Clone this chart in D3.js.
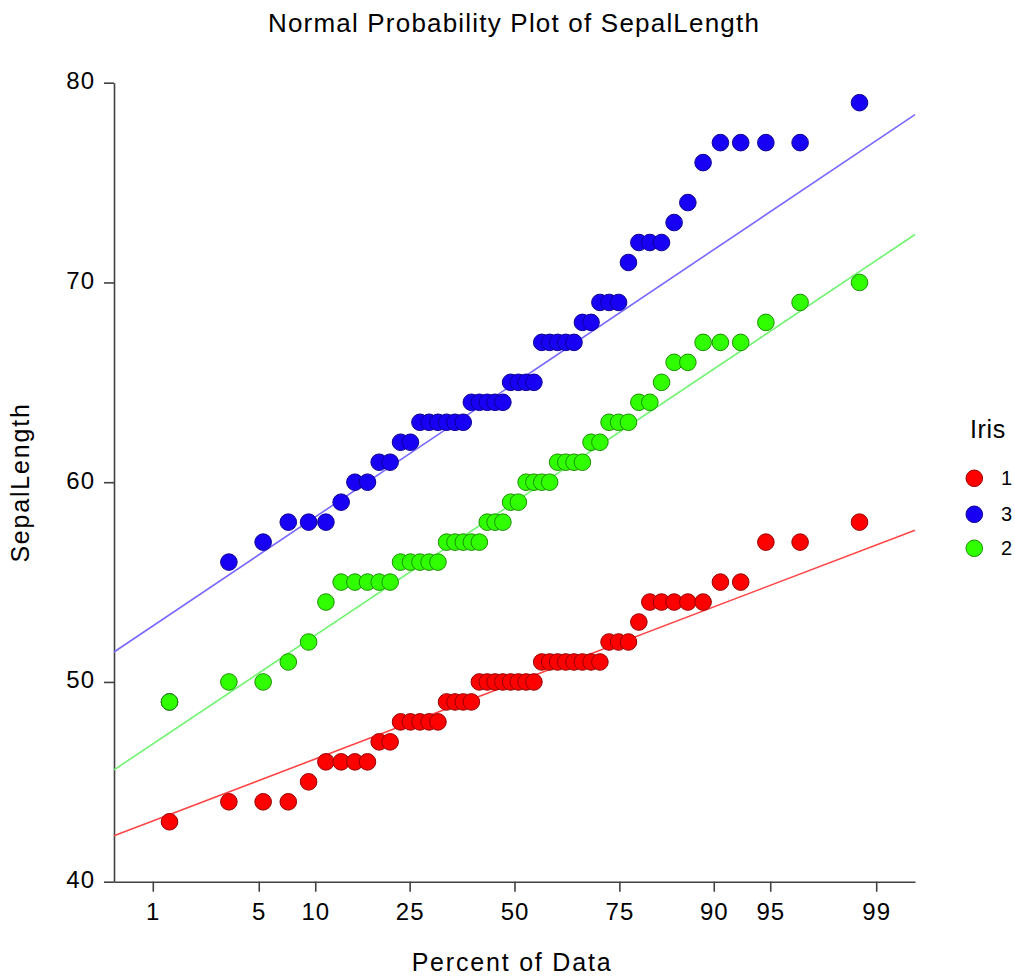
<!DOCTYPE html>
<html>
<head>
<meta charset="utf-8">
<title>Normal Probability Plot of SepalLength</title>
<script src="https://cdn.jsdelivr.net/npm/d3@7.9.0/dist/d3.min.js"></script>
<style>
  html, body { margin: 0; padding: 0; background: #fff; }
  svg { display: block; font-family: "Liberation Sans", Arial, sans-serif; }
</style>
</head>
<body>
<svg id="chart" width="1015" height="979"></svg>
<script>
// Sepal length values (mm) of each iris group, sorted
const group1 = [43, 44, 44, 44, 45, 46, 46, 46, 46, 47, 47, 48, 48, 48, 48, 48, 49, 49, 49, 49,
  50, 50, 50, 50, 50, 50, 50, 50, 51, 51, 51, 51, 51, 51, 51, 51, 52, 52, 52, 53,
  54, 54, 54, 54, 54, 55, 55, 57, 57, 58];
const group2 = [49, 50, 50, 51, 52, 54, 55, 55, 55, 55, 55, 56, 56, 56, 56, 56, 57, 57, 57, 57,
  57, 58, 58, 58, 59, 59, 60, 60, 60, 60, 61, 61, 61, 61, 62, 62, 63, 63, 63, 64,
  64, 65, 66, 66, 67, 67, 67, 68, 69, 70];
const group3 = [49, 56, 57, 58, 58, 58, 59, 60, 60, 61, 61, 62, 62, 63, 63, 63, 63, 63, 63, 64,
  64, 64, 64, 64, 65, 65, 65, 65, 67, 67, 67, 67, 67, 68, 68, 69, 69, 69, 71, 72,
  72, 72, 73, 74, 76, 77, 77, 77, 77, 79];

// Reference lines: value at the left and right edge of the plot
const line1 = [42.3, 57.6];
const line2 = [45.6, 72.4];
const line3 = [51.5, 78.4];

// Legend order as drawn (1, 3, 2)
const legendLabels = ['1', '3', '2'];

const xTickPercents = [1, 5, 10, 25, 50, 75, 90, 95, 99];
const yTicks = [40, 50, 60, 70, 80];

// Inverse standard normal CDF (Acklam)
function probit(p) {
  const a = [-39.69683028665376, 220.9460984245205, -275.9285104469687, 138.357751867269, -30.66479806614716, 2.506628277459239];
  const b = [-54.47609879822406, 161.5858368580409, -155.6989798598866, 66.80131188771972, -13.28068155288572];
  const c = [-0.007784894002430293, -0.3223964580411365, -2.400758277161838, -2.549732539343734, 4.374664141464968, 2.938163982698783];
  const d = [0.007784695709041462, 0.3224671290700398, 2.445134137142996, 3.754408661907416];
  const pl = 0.02425;
  let q, r;
  if (p < pl) {
    q = Math.sqrt(-2 * Math.log(p));
    return (((((c[0] * q + c[1]) * q + c[2]) * q + c[3]) * q + c[4]) * q + c[5]) /
      ((((d[0] * q + d[1]) * q + d[2]) * q + d[3]) * q + 1);
  }
  if (p > 1 - pl) {
    q = Math.sqrt(-2 * Math.log(1 - p));
    return -(((((c[0] * q + c[1]) * q + c[2]) * q + c[3]) * q + c[4]) * q + c[5]) /
      ((((d[0] * q + d[1]) * q + d[2]) * q + d[3]) * q + 1);
  }
  q = p - 0.5;
  r = q * q;
  return (((((a[0] * r + a[1]) * r + a[2]) * r + a[3]) * r + a[4]) * r + a[5]) * q /
    (((((b[0] * r + b[1]) * r + b[2]) * r + b[3]) * r + b[4]) * r + 1);
}

// plotting position of the i-th sorted value (percent of data)
const pct = (i, n) => (i + 1 - 1 / 3) / (n + 1 / 3);

const series = [
  { name: '1', values: group1, line: line1, fill: '#ff0000', stroke: '#960000', lineColor: '#ff4545' },
  { name: '3', values: group3, line: line3, fill: '#1800f5', stroke: '#0e0095', lineColor: '#7868ff' },
  { name: '2', values: group2, line: line2, fill: '#30ff00', stroke: '#1a8f00', lineColor: '#70f570' }
];

const svg = d3.select('#chart');
const plotLeft = 114, plotRight = 915, plotTop = 82.7, plotBottom = 881.7;
const zEdge = probit(0.995);

const x = d3.scaleLinear().domain([-zEdge, zEdge]).range([plotLeft, plotRight]);
const y = d3.scaleLinear().domain([40, 80]).range([plotBottom, plotTop]);

// Title
svg.append('text')
  .attr('x', 514).attr('y', 32)
  .attr('text-anchor', 'middle')
  .attr('font-size', 26).attr('letter-spacing', 1.2)
  .attr('fill', '#000')
  .text('Normal Probability Plot of SepalLength');

// Axes
const axisColor = '#404040';
const yAxis = svg.append('g').attr('transform', `translate(${plotLeft},0)`)
  .call(d3.axisLeft(y).tickValues(yTicks).tickSize(10).tickSizeOuter(0).tickPadding(9));
const xAxis = svg.append('g').attr('transform', `translate(0,${plotBottom})`)
  .call(d3.axisBottom(x).tickValues(xTickPercents.map(p => probit(p / 100)))
    .tickFormat((d, i) => xTickPercents[i]).tickSize(10).tickSizeOuter(0).tickPadding(10));

[yAxis, xAxis].forEach(g => {
  g.select('.domain').attr('stroke', axisColor).attr('stroke-width', 1.6);
  g.selectAll('.tick line').attr('stroke', axisColor).attr('stroke-width', 1.6);
  g.selectAll('.tick text')
    .attr('font-size', 24).attr('letter-spacing', 1)
    .attr('fill', '#000')
    .attr('font-family', '"Liberation Sans", Arial, sans-serif');
});
yAxis.selectAll('.tick text').attr('dy', '0.25em');
xAxis.selectAll('.tick text').attr('dy', '0.75em');

// Axis titles
svg.append('text')
  .attr('x', 512).attr('y', 971)
  .attr('text-anchor', 'middle')
  .attr('font-size', 25).attr('letter-spacing', 1.8)
  .attr('fill', '#000')
  .text('Percent of Data');

svg.append('text')
  .attr('transform', 'translate(29,482.5) rotate(-90)')
  .attr('text-anchor', 'middle')
  .attr('font-size', 25).attr('letter-spacing', 1.8)
  .attr('fill', '#000')
  .text('SepalLength');

// Reference lines
const plot = svg.append('g');
series.forEach(s => {
  plot.append('line')
    .attr('x1', x(-zEdge)).attr('y1', y(s.line[0]))
    .attr('x2', x(zEdge)).attr('y2', y(s.line[1]))
    .attr('stroke', s.lineColor)
    .attr('stroke-width', 1.6);
});

// Points
series.forEach(s => {
  const n = s.values.length;
  plot.append('g')
    .selectAll('circle')
    .data(s.values)
    .enter()
    .append('circle')
    .attr('cx', (d, i) => x(probit(pct(i, n))))
    .attr('cy', d => y(d))
    .attr('r', 8.3)
    .attr('fill', s.fill)
    .attr('stroke', s.stroke)
    .attr('stroke-width', 1);
});

// Legend
const legend = svg.append('g');
legend.append('text')
  .attr('x', 970).attr('y', 438)
  .attr('font-size', 25).attr('letter-spacing', 0.6)
  .attr('fill', '#000')
  .text('Iris');

const legendY = [478.3, 514.3, 548.3];
series.forEach((s, i) => {
  legend.append('circle')
    .attr('cx', 974.3).attr('cy', legendY[i])
    .attr('r', 8.3)
    .attr('fill', s.fill)
    .attr('stroke', s.stroke)
    .attr('stroke-width', 1);
  legend.append('text')
    .attr('x', 1001).attr('y', legendY[i] + 7)
    .attr('font-size', 20)
    .attr('fill', '#000')
    .text(legendLabels[i]);
});
</script>
</body>
</html>
